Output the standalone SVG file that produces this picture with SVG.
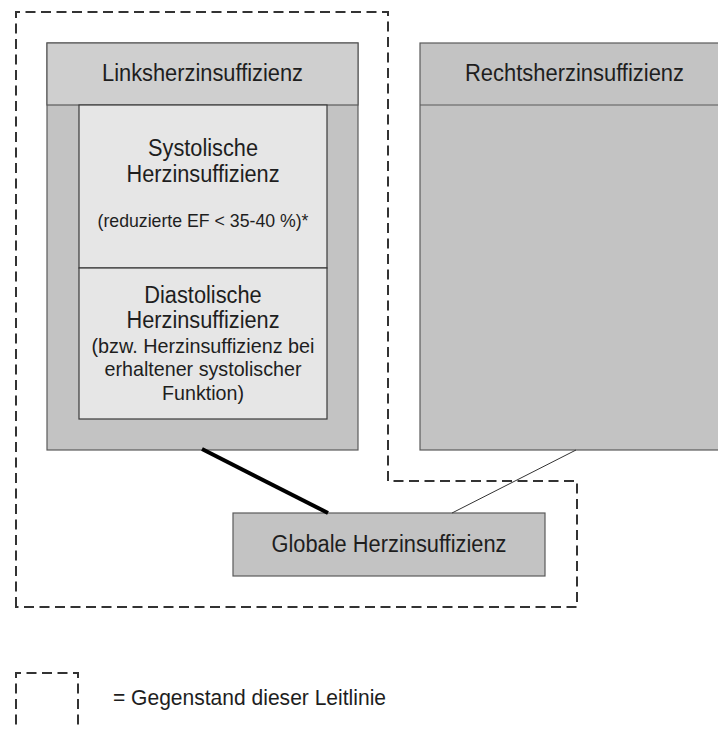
<svg xmlns="http://www.w3.org/2000/svg" width="718" height="729" viewBox="0 0 718 729">
<style>
  text { font-family: "Liberation Sans", Arial, sans-serif; fill: #1e1e1e; text-anchor: middle; }
  .big { font-size: 23px; }
  .mid { font-size: 21px; }
  .small { font-size: 19px; }
  .box { fill: #c3c3c3; stroke: #5a5a5a; stroke-width: 1.2; }
  .hdr { fill: #cfcfcf; stroke: #5a5a5a; stroke-width: 1.2; }
  .inner { fill: #e6e6e6; stroke: #3a3a3a; stroke-width: 1.2; }
  .dash { fill: none; stroke: #333; stroke-width: 2; stroke-dasharray: 10 5.5; }
</style>
<rect width="718" height="729" fill="#ffffff"/>
<g id="scope">
  <path class="dash" d="M16,607 V12 H388 V481 H577 V607 Z"/>
</g>
<g id="links">
  <rect class="box" x="47" y="43" width="311" height="407"/>
  <rect class="hdr" x="47" y="43" width="311" height="62"/>
  <text class="big" x="202.5" y="81" textLength="201" lengthAdjust="spacingAndGlyphs">Linksherzinsuffizienz</text>
</g>
<g id="systolisch">
  <rect class="inner" x="79" y="105" width="248" height="163"/>
  <text class="big" x="203" y="156" textLength="110" lengthAdjust="spacingAndGlyphs">Systolische</text>
  <text class="big" x="203" y="182" textLength="153" lengthAdjust="spacingAndGlyphs">Herzinsuffizienz</text>
  <text class="small" x="203" y="227" textLength="211" lengthAdjust="spacingAndGlyphs">(reduzierte EF &lt; 35-40 %)*</text>
</g>
<g id="diastolisch">
  <rect class="inner" x="79" y="268" width="248" height="151"/>
  <text class="big" x="203" y="303" textLength="117.5" lengthAdjust="spacingAndGlyphs">Diastolische</text>
  <text class="big" x="203" y="328" textLength="153" lengthAdjust="spacingAndGlyphs">Herzinsuffizienz</text>
  <text class="mid" x="203" y="353" textLength="223" lengthAdjust="spacingAndGlyphs">(bzw. Herzinsuffizienz bei</text>
  <text class="mid" x="203" y="376" textLength="197" lengthAdjust="spacingAndGlyphs">erhaltener systolischer</text>
  <text class="mid" x="203" y="400" textLength="82" lengthAdjust="spacingAndGlyphs">Funktion)</text>
</g>
<g id="rechts">
  <rect class="box" x="420" y="43" width="310" height="407"/>
  <line x1="420" y1="105" x2="730" y2="105" stroke="#5a5a5a" stroke-width="1.2"/>
  <text class="big" x="574.5" y="81" textLength="219" lengthAdjust="spacingAndGlyphs">Rechtsherzinsuffizienz</text>
</g>
<g id="global">
  <rect class="box" x="233" y="513" width="312" height="63"/>
  <text class="big" x="389" y="552" textLength="235" lengthAdjust="spacingAndGlyphs">Globale Herzinsuffizienz</text>
</g>
<g id="connectors">
  <line x1="202" y1="449" x2="328" y2="513" stroke="#000" stroke-width="4"/>
  <line x1="576" y1="450" x2="452" y2="513" stroke="#333" stroke-width="1"/>
</g>
<g id="legend">
  <path class="dash" d="M16,740 V673 H78 V740"/>
  <text style="font-size:22.5px;text-anchor:start" x="113" y="705" textLength="273" lengthAdjust="spacingAndGlyphs">= Gegenstand dieser Leitlinie</text>
</g>
</svg>
